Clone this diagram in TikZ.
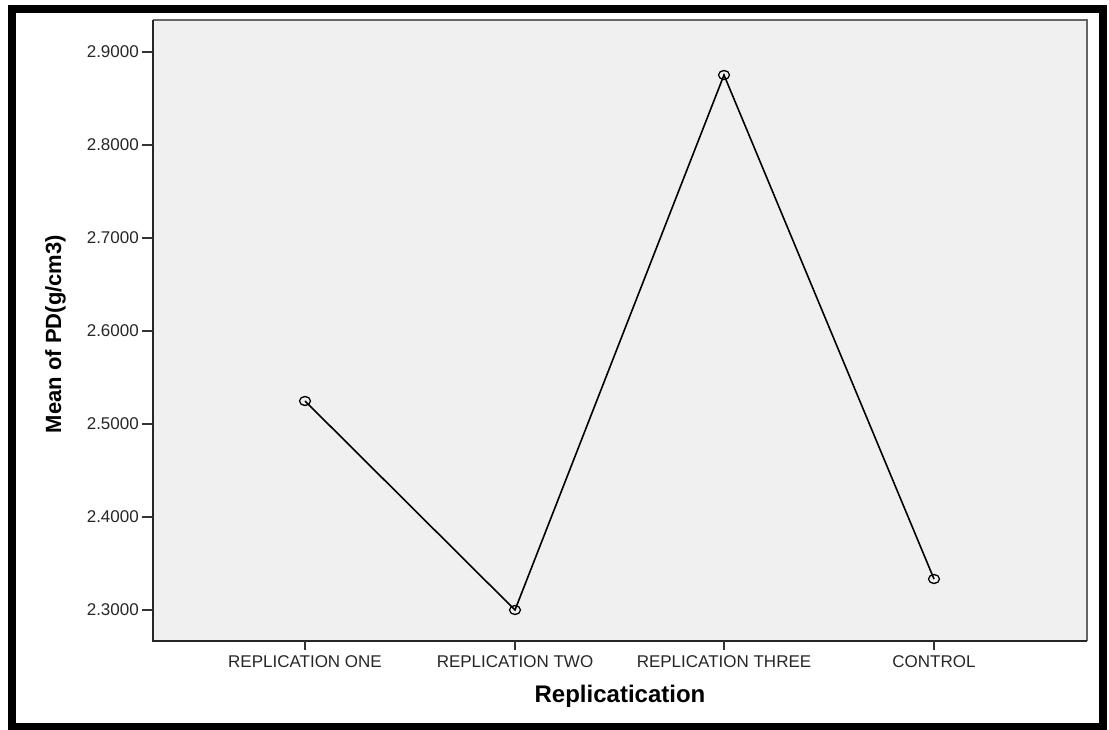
\documentclass[tikz,border=0pt]{standalone}
\usepackage{fontspec}
\setmainfont{Liberation Sans}
\usetikzlibrary{shapes.geometric}

\tikzset{
	ticklab/.style={inner sep=0pt, text=black!85, font=\fontsize{17}{17}\selectfont},
	axtitle/.style={inner sep=0pt, font=\bfseries\fontsize{22}{22}\selectfont},
	ptmark/.style={draw, ellipse, line width=1.3pt, minimum width=11pt, minimum height=9pt, inner sep=0pt},
	tickline/.style={line width=1.5pt, black!80}
}

\begin{document}
\begin{tikzpicture}[x=1pt,y=-1pt]
	\useasboundingbox (0,0) rectangle (1109,730);
	\draw[line width=8pt] (12,9) rectangle (1102.5,727);	%outer frame
	
	\fill[black!6] (153,20) rectangle (1087,641);	%plot area
	\draw[line width=1.5pt, black!60] (153,20)--(1087,20)--(1087,641);
	\draw[line width=1.5pt, black!85] (153,20)--(153,641)--(1087,641);
	
	%y axis
	\foreach \v/\y in {2.9000/52, 2.8000/145, 2.7000/238, 2.6000/331, 2.5000/424, 2.4000/517, 2.3000/610} {
		\draw[tickline] (142,\y)--(153,\y);
		\node[ticklab, anchor=east] at (139,\y) {\v};
	}
	
	%x axis
	\foreach \t/\x in {REPLICATION ONE/305, REPLICATION TWO/515, REPLICATION THREE/724, CONTROL/934} {
		\draw[tickline] (\x,641)--(\x,650);
		\node[ticklab, anchor=north] at (\x,655) {\t};
	}
	
	\node[axtitle, anchor=base, font=\bfseries\fontsize{24}{24}\selectfont] (xtitle) at (620,702) {Replicatication};
	\node[axtitle, anchor=base, rotate=90] (ytitle) at (61,334) {Mean of PD(g/cm3)};
	
	%means
	\node[ptmark] (rone)   at (305,401) {};
	\node[ptmark] (rtwo)   at (515,610) {};
	\node[ptmark] (rthree) at (724,75)  {};
	\node[ptmark] (ctrl)   at (934,579) {};
	
	\draw[line width=1.6pt] (rone.center)--(rtwo.center)--(rthree.center)--(ctrl.center);
\end{tikzpicture}
\end{document}
